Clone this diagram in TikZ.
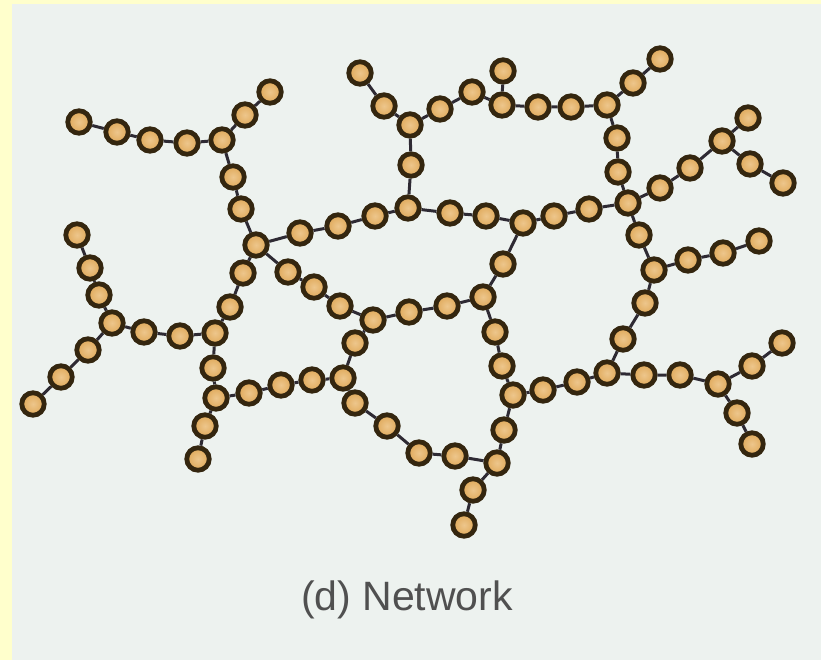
\documentclass[tikz,border=0pt]{standalone}
\usepackage{fontspec}
\setmainfont{Liberation Sans}
\definecolor{bg}{HTML}{EDF2EF}
\definecolor{edgeyellow}{HTML}{FFFFCC}
\definecolor{ring}{HTML}{34260F}
\definecolor{beadfill}{HTML}{DFA858}
\definecolor{beadlight}{HTML}{EDC68C}
\definecolor{link}{HTML}{2E2A33}
\definecolor{labelgray}{HTML}{505050}
\tikzset{
  bead/.style={circle, draw=ring, line width=4.8pt, inner sep=0pt, minimum size=22.5pt,
    inner color=beadlight, outer color=beadfill},
  bond/.style={draw=link, line width=3pt},
  caption/.style={font=\fontsize{41}{48}\selectfont, text=labelgray, anchor=base}
}
\begin{document}
\begin{tikzpicture}[x=1pt,y=-1pt]
\fill[edgeyellow] (0,0) rectangle (821,660);
\fill[bg] (12,4) rectangle (821,660);
\useasboundingbox (0,0) rectangle (821,660);
% beads
\foreach \n/\x/\y in {
 a1/79/122, a2/117/132, a3/150/140, a4/187/143, J1/222/140, a5/245/115, a6/270/92,
 b1/233/177, b2/241/209, J2/256/245,
 c1/300/233, c2/338/226, c3/375/216, J3/408/208, c4/450/213, c5/486/216, J4/523/223,
 c6/554/216, c7/589/209, J5/628/203,
 d1/411/165, J6/410/125, d2/384/106, d3/360/73, d4/440/109, d5/472/92, J7/502/105,
 d6/503/71, d7/538/107, d8/571/107, J8/607/105, d9/633/83, d10/660/59,
 e1/617/138, e2/618/172,
 f1/660/188, f2/690/168, J9/722/141, f3/748/118, f4/750/164, f5/783/183,
 g1/639/235, J10/654/270, g2/688/260, g3/723/253, g4/759/241, g5/645/303, g6/623/339,
 J11/607/373, h1/644/375, h2/680/375, J12/718/384, h3/752/366, h4/782/343,
 h5/737/413, h6/752/444, h7/577/382, h8/543/390, J13/513/395,
 i1/503/264, J14/483/297, i2/447/306, i3/409/312, J15/373/320, i4/495/332, i5/502/366,
 k1/504/430, J16/497/463, k2/473/490, k3/464/525, k4/455/456, k5/419/453, k6/387/426,
 k7/355/403, J17/343/378, m1/355/343, m2/312/380, m3/281/385, m4/249/393, J18/216/398,
 n1/340/306, n2/314/287, n3/288/272,
 p1/243/273, p2/230/307, J19/215/333, p3/180/336, p4/144/332, J20/112/323,
 q1/99/295, q2/90/268, q3/77/235, q4/88/350, q5/61/377, q6/33/404,
 r1/213/368, r2/205/426, r3/198/459}
 {\node[bead] (\n) at (\x,\y) {};}
% bonds
\path[bond] (a1)--(a2) (a2)--(a3) (a3)--(a4) (a4)--(J1) (J1)--(a5) (a5)--(a6)
 (J1)--(b1) (b1)--(b2) (b2)--(J2)
 (J2)--(c1) (c1)--(c2) (c2)--(c3) (c3)--(J3) (J3)--(c4) (c4)--(c5) (c5)--(J4)
 (J4)--(c6) (c6)--(c7) (c7)--(J5)
 (J3)--(d1) (d1)--(J6) (J6)--(d2) (d2)--(d3) (J6)--(d4) (d4)--(d5) (d5)--(J7)
 (J7)--(d6) (J7)--(d7) (d7)--(d8) (d8)--(J8) (J8)--(d9) (d9)--(d10)
 (J8)--(e1) (e1)--(e2) (e2)--(J5)
 (J5)--(f1) (f1)--(f2) (f2)--(J9) (J9)--(f3) (J9)--(f4) (f4)--(f5)
 (J5)--(g1) (g1)--(J10) (J10)--(g2) (g2)--(g3) (g3)--(g4) (J10)--(g5) (g5)--(g6) (g6)--(J11)
 (J11)--(h1) (h1)--(h2) (h2)--(J12) (J12)--(h3) (h3)--(h4) (J12)--(h5) (h5)--(h6)
 (J11)--(h7) (h7)--(h8) (h8)--(J13)
 (J4)--(i1) (i1)--(J14) (J14)--(i2) (i2)--(i3) (i3)--(J15) (J14)--(i4) (i4)--(i5) (i5)--(J13)
 (J13)--(k1) (k1)--(J16) (J16)--(k2) (k2)--(k3) (J16)--(k4) (k4)--(k5) (k5)--(k6) (k6)--(k7) (k7)--(J17)
 (J15)--(m1) (m1)--(J17) (J17)--(m2) (m2)--(m3) (m3)--(m4) (m4)--(J18)
 (J15)--(n1) (n1)--(n2) (n2)--(n3) (n3)--(J2)
 (J2)--(p1) (p1)--(p2) (p2)--(J19) (J19)--(p3) (p3)--(p4) (p4)--(J20)
 (J20)--(q1) (q1)--(q2) (q2)--(q3) (J20)--(q4) (q4)--(q5) (q5)--(q6)
 (J19)--(r1) (r1)--(J18) (J18)--(r2) (r2)--(r3);
% caption
\node[caption] (cap) at (407,610) {(d) Network};
\end{tikzpicture}
\end{document}
